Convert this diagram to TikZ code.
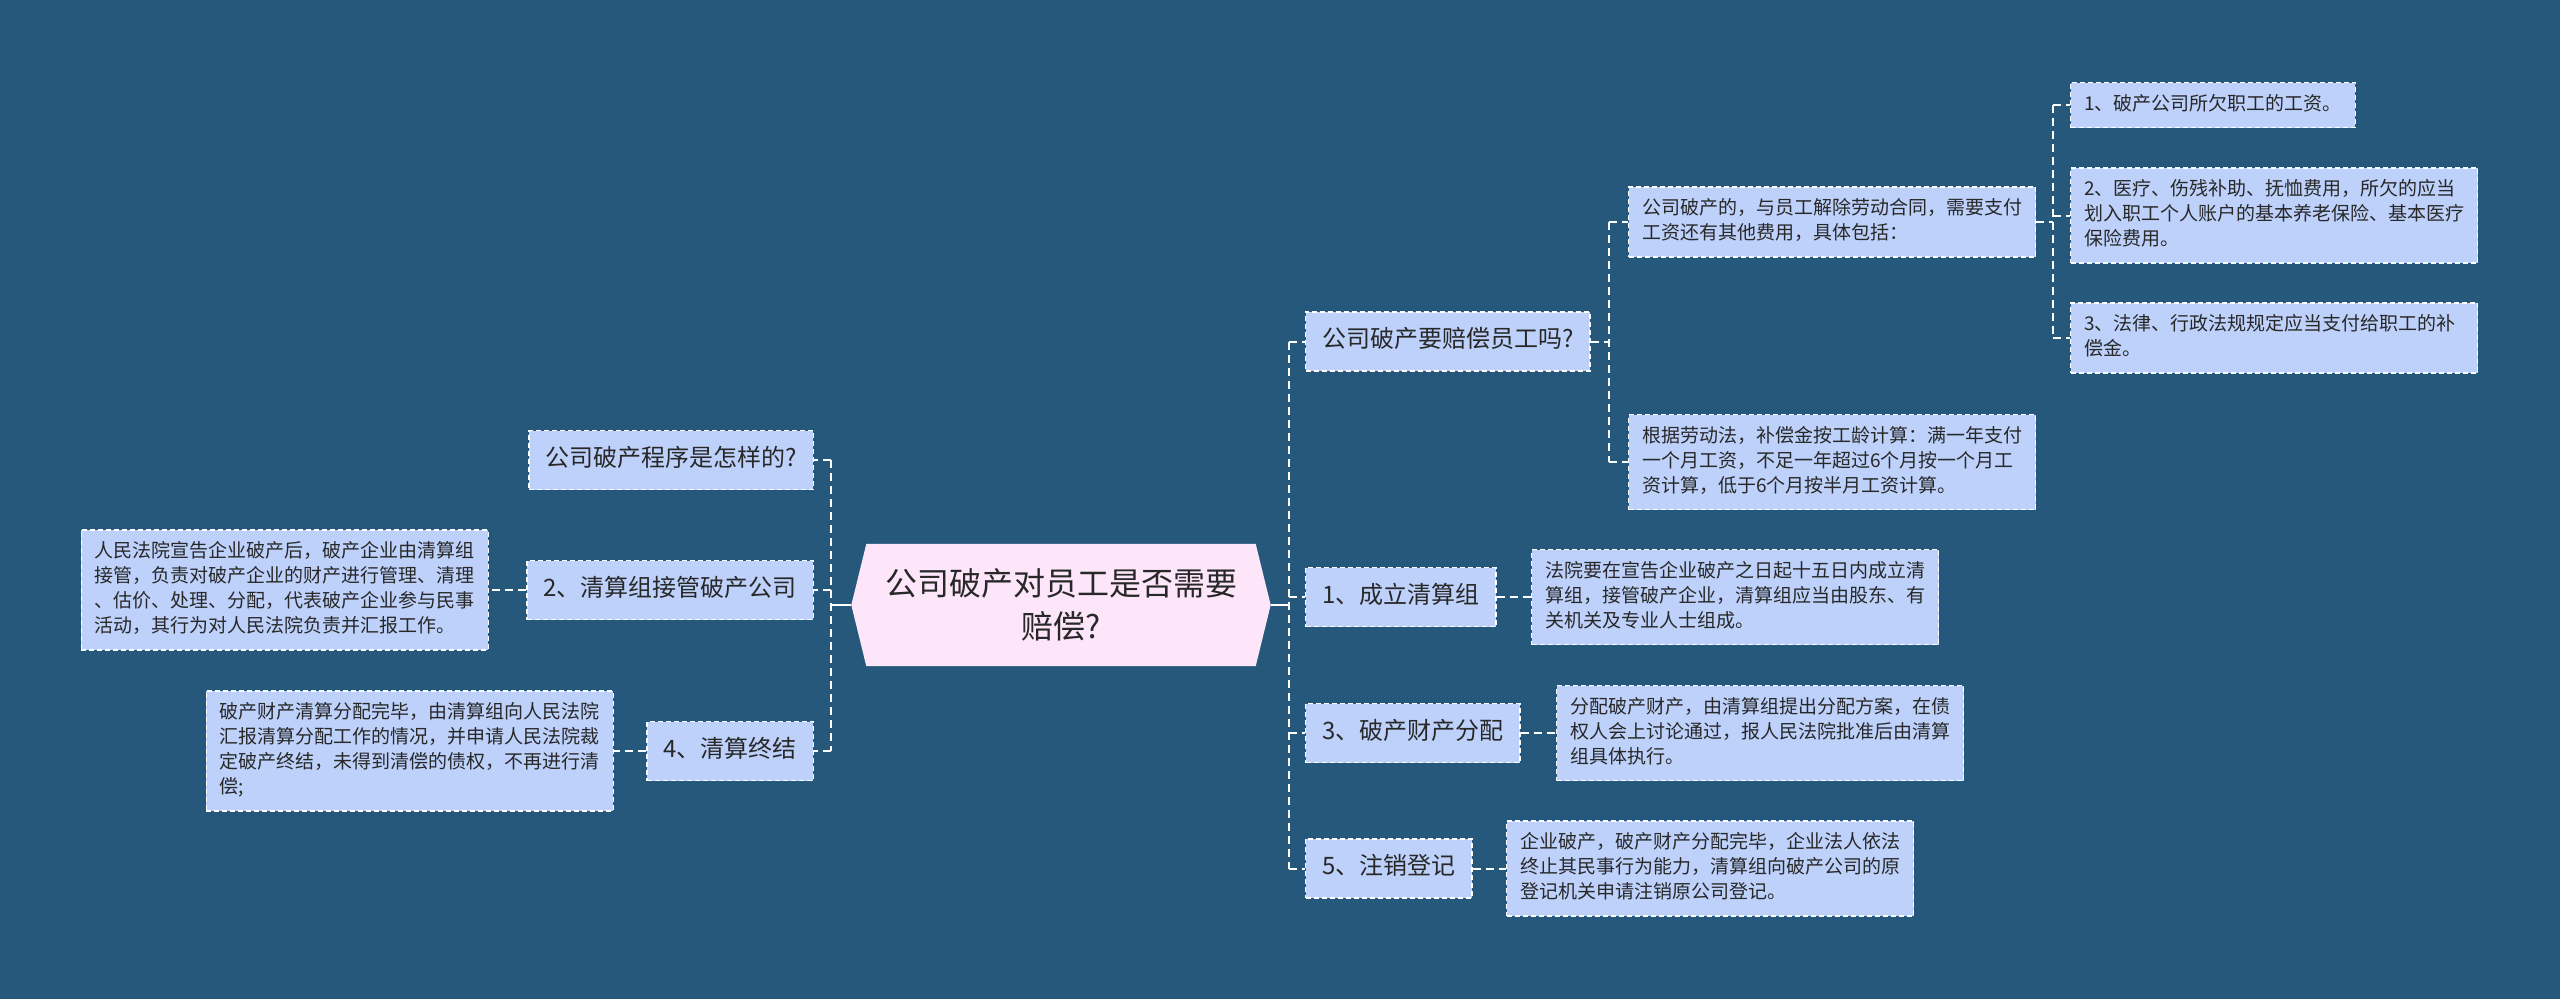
\documentclass[tikz,border=0pt]{standalone}
\usepackage{fontspec}
\newfontfamily\cjk{Noto Sans CJK SC}
\usetikzlibrary{backgrounds}
\definecolor{bgblue}{RGB}{37,88,122}
\definecolor{boxfill}{RGB}{189,209,251}
\definecolor{rootfill}{RGB}{253,230,250}
\definecolor{txt}{RGB}{40,40,40}
\tikzset{
  smallbox/.style={draw=white, line width=1.3pt, dash pattern=on 5pt off 3pt, fill=boxfill, text=txt,
    font=\cjk\fontsize{19}{25}\selectfont, inner xsep=13.5pt, inner ysep=10pt,
    execute at begin node=\strut, execute at end node=\strut},
  widebox/.style={smallbox, text width=380pt, align=left},
  topicbox/.style={draw=white, line width=1.3pt, dash pattern=on 5pt off 3pt, fill=boxfill, text=txt,
    font=\cjk\fontsize{24}{30}\selectfont, inner xsep=16.5pt, inner ysep=14.5pt,
    execute at begin node=\strut},
  rootbox/.style={font=\cjk\fontsize{32}{43}\selectfont, text=txt, align=center,
    minimum width=419pt, minimum height=122pt, inner sep=0pt},
  conn/.style={draw=white, line width=2pt, dash pattern=on 8pt off 5pt},
  solidconn/.style={draw=white, line width=2pt},
}
\begin{document}
\begin{tikzpicture}[x=1pt,y=-1pt]
\begin{scope}[on background layer]
  \fill[bgblue] (0,0) rectangle (2560,999);
\end{scope}
\useasboundingbox (0,0) rectangle (2560,999);

% root
\node[rootbox] (root) at (1061,605) {公司破产对员工是否需要\\赔偿?};
\begin{scope}[on background layer]
  \fill[rootfill] (root.west) -- ([xshift=15pt]root.north west) -- ([xshift=-15pt]root.north east)
    -- (root.east) -- ([xshift=-15pt]root.south east) -- ([xshift=15pt]root.south west) -- cycle;
\end{scope}

% right side level 1
\node[topicbox, anchor=west] (A) at (1305,341.5) {公司破产要赔偿员工吗?};
\node[topicbox, anchor=west] (B) at (1305,597) {1、成立清算组};
\node[topicbox, anchor=west] (C) at (1305,733) {3、破产财产分配};
\node[topicbox, anchor=west] (D) at (1305,868.5) {5、注销登记};

% A children
\node[widebox, anchor=west] (A1) at (1628,222) {公司破产的，与员工解除劳动合同，需要支付\\工资还有其他费用，具体包括：};
\node[widebox, anchor=west] (A2) at (1628,462) {根据劳动法，补偿金按工龄计算：满一年支付\\一个月工资，不足一年超过6个月按一个月工\\资计算，低于6个月按半月工资计算。};
\node[smallbox, anchor=west] (A1a) at (2070,105) {1、破产公司所欠职工的工资。};
\node[widebox, anchor=west] (A1b) at (2070,215.5) {2、医疗、伤残补助、抚恤费用，所欠的应当\\划入职工个人账户的基本养老保险、基本医疗\\保险费用。};
\node[widebox, anchor=west] (A1c) at (2070,338) {3、法律、行政法规规定应当支付给职工的补\\偿金。};

% B, C, D children
\node[widebox, anchor=west] (B1) at (1531,597) {法院要在宣告企业破产之日起十五日内成立清\\算组，接管破产企业，清算组应当由股东、有\\关机关及专业人士组成。};
\node[widebox, anchor=west] (C1) at (1556,733) {分配破产财产，由清算组提出分配方案，在债\\权人会上讨论通过，报人民法院批准后由清算\\组具体执行。};
\node[widebox, anchor=west] (D1) at (1506,868.5) {企业破产，破产财产分配完毕，企业法人依法\\终止其民事行为能力，清算组向破产公司的原\\登记机关申请注销原公司登记。};

% left side
\node[topicbox, anchor=east] (L1) at (814,460) {公司破产程序是怎样的?};
\node[topicbox, anchor=east] (L2) at (814,590) {2、清算组接管破产公司};
\node[topicbox, anchor=east] (L4) at (814,751) {4、清算终结};
\node[widebox, anchor=east] (L2c) at (489,590) {人民法院宣告企业破产后，破产企业由清算组\\接管，负责对破产企业的财产进行管理、清理\\、估价、处理、分配，代表破产企业参与民事\\活动，其行为对人民法院负责并汇报工作。};
\node[widebox, anchor=east] (L4c) at (614,751) {破产财产清算分配完毕，由清算组向人民法院\\汇报清算分配工作的情况，并申请人民法院裁\\定破产终结，未得到清偿的债权，不再进行清\\偿;};

% spine coordinates
\coordinate (rsp) at (1289,0);
\coordinate (asp) at (1609,0);
\coordinate (a1sp) at (2053,0);
\coordinate (lsp) at (831,0);

% right spine
\draw[solidconn] (root.east) -- (root.east -| rsp);
\draw[conn] (A.west -| rsp) -- (D.west -| rsp);
\foreach \n in {A,B,C,D} \draw[conn] (\n.west -| rsp) -- (\n.west);

% A sub-spine
\draw[conn] (A.east) -- (A.east -| asp);
\draw[conn] (A1.west -| asp) -- (A2.west -| asp);
\foreach \n in {A1,A2} \draw[conn] (\n.west -| asp) -- (\n.west);

% A1 sub-spine
\draw[conn] (A1.east) -- (A1.east -| a1sp);
\draw[conn] (A1a.west -| a1sp) -- (A1c.west -| a1sp);
\foreach \n in {A1a,A1b,A1c} \draw[conn] (\n.west -| a1sp) -- (\n.west);

% single children
\draw[conn] (B.east) -- (B1.west);
\draw[conn] (C.east) -- (C1.west);
\draw[conn] (D.east) -- (D1.west);

% left spine
\draw[solidconn] (root.west) -- (root.west -| lsp);
\draw[conn] (L1.east -| lsp) -- (L4.east -| lsp);
\foreach \n in {L1,L2,L4} \draw[conn] (\n.east -| lsp) -- (\n.east);
\draw[conn] (L2.west) -- (L2c.east);
\draw[conn] (L4.west) -- (L4c.east);
\end{tikzpicture}
\end{document}
